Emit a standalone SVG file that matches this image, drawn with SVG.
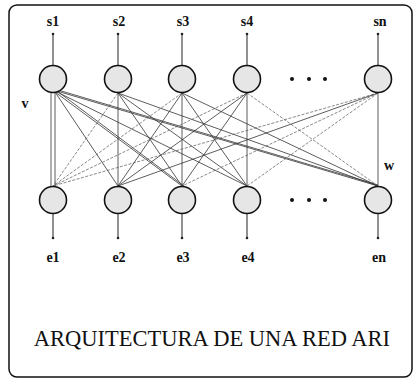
<svg xmlns="http://www.w3.org/2000/svg" width="415" height="380" viewBox="0 0 415 380">
<style>
.n{fill:#e6e6e6;stroke:#111;stroke-width:1.6}
.t{stroke:#222;stroke-width:1}
.c{stroke:#333;stroke-width:0.8;fill:none}
.d{stroke:#555;stroke-width:0.7;stroke-dasharray:3 1.5;fill:none}
.lb{font-family:"Liberation Serif",serif;font-size:14px;font-weight:bold;fill:#111;text-anchor:middle}
.ti{font-family:"Liberation Serif",serif;font-size:22.5px;fill:#111;text-anchor:middle}
</style>
<rect x="9" y="5" width="403" height="372" rx="8" fill="#fff" stroke="#111" stroke-width="1.5"/>
<g id="connectors">
<line class="c" x1="51" y1="93" x2="51" y2="186"/><line class="c" x1="55" y1="93" x2="55" y2="186"/>
<line class="c" x1="55" y1="92" x2="118" y2="186"/>
<line class="c" x1="55" y1="92" x2="182" y2="186"/><line class="c" x1="57" y1="91" x2="184" y2="186"/>
<line class="c" x1="57" y1="92" x2="247" y2="186"/>
<line class="c" x1="57" y1="91" x2="378" y2="186"/><line class="c" x1="58" y1="90" x2="378" y2="185"/>
<line class="d" x1="118" y1="93" x2="53" y2="186"/>
<line class="c" x1="118" y1="93" x2="118" y2="186"/>
<line class="c" x1="118" y1="93" x2="182" y2="186"/>
<line class="c" x1="118" y1="93" x2="247" y2="186"/>
<line class="c" x1="118" y1="93" x2="378" y2="186"/>
<line class="d" x1="182" y1="93" x2="53" y2="186"/>
<line class="c" x1="182" y1="93" x2="118" y2="186"/>
<line class="c" x1="182" y1="93" x2="182" y2="186"/>
<line class="c" x1="182" y1="93" x2="247" y2="186"/>
<line class="c" x1="182" y1="93" x2="378" y2="186"/>
<line class="d" x1="247" y1="93" x2="53" y2="186"/>
<line class="c" x1="247" y1="93" x2="118" y2="186"/>
<line class="c" x1="247" y1="93" x2="182" y2="186"/>
<line class="c" x1="247" y1="93" x2="247" y2="186"/>
<line class="d" x1="247" y1="93" x2="378" y2="186"/>
<line class="d" x1="378" y1="93" x2="53" y2="186"/>
<line class="c" x1="378" y1="93" x2="118" y2="186"/>
<line class="d" x1="378" y1="93" x2="182" y2="186"/>
<line class="d" x1="378" y1="93" x2="247" y2="186"/>
<line class="c" x1="378" y1="93" x2="378" y2="186"/>
</g>
<g id="top-nodes">
<g id="s1"><text class="lb" x="53" y="26">s1</text><line class="t" x1="53" y1="34" x2="53" y2="65"/><circle cx="53" cy="34" r="1.3" fill="#222"/><circle class="n" cx="53" cy="79" r="13.5"/></g>
<g id="s2"><text class="lb" x="119" y="26">s2</text><line class="t" x1="118" y1="34" x2="118" y2="65"/><circle cx="118" cy="34" r="1.3" fill="#222"/><circle class="n" cx="118" cy="79" r="13.5"/></g>
<g id="s3"><text class="lb" x="183" y="26">s3</text><line class="t" x1="182" y1="34" x2="182" y2="65"/><circle cx="182" cy="34" r="1.3" fill="#222"/><circle class="n" cx="182" cy="79" r="13.5"/></g>
<g id="s4"><text class="lb" x="247" y="26">s4</text><line class="t" x1="247" y1="34" x2="247" y2="65"/><circle cx="247" cy="34" r="1.3" fill="#222"/><circle class="n" cx="247" cy="79" r="13.5"/></g>
<g id="sn"><text class="lb" x="380" y="26">sn</text><line class="t" x1="378" y1="34" x2="378" y2="65"/><circle cx="378" cy="34" r="1.3" fill="#222"/><circle class="n" cx="378" cy="79" r="13.5"/></g>
<g id="top-dots" fill="#111"><circle cx="292" cy="79" r="2"/><circle cx="309" cy="79" r="2"/><circle cx="325" cy="79" r="2"/></g>
</g>
<g id="bottom-nodes">
<g id="e1"><circle class="n" cx="53" cy="200" r="13.5"/><line class="t" x1="53" y1="214" x2="53" y2="238"/><circle cx="53" cy="238" r="1.3" fill="#222"/><text class="lb" x="53" y="262">e1</text></g>
<g id="e2"><circle class="n" cx="118" cy="200" r="13.5"/><line class="t" x1="118" y1="214" x2="118" y2="238"/><circle cx="118" cy="238" r="1.3" fill="#222"/><text class="lb" x="119" y="262">e2</text></g>
<g id="e3"><circle class="n" cx="182" cy="200" r="13.5"/><line class="t" x1="182" y1="214" x2="182" y2="238"/><circle cx="182" cy="238" r="1.3" fill="#222"/><text class="lb" x="183" y="262">e3</text></g>
<g id="e4"><circle class="n" cx="247" cy="200" r="13.5"/><line class="t" x1="247" y1="214" x2="247" y2="238"/><circle cx="247" cy="238" r="1.3" fill="#222"/><text class="lb" x="248" y="262">e4</text></g>
<g id="en"><circle class="n" cx="378" cy="200" r="13.5"/><line class="t" x1="378" y1="214" x2="378" y2="238"/><circle cx="378" cy="238" r="1.3" fill="#222"/><text class="lb" x="379" y="262">en</text></g>
<g id="bottom-dots" fill="#111"><circle cx="292" cy="200" r="2"/><circle cx="309" cy="200" r="2"/><circle cx="325" cy="200" r="2"/></g>
</g>
<text class="lb" x="25" y="108">v</text>
<text class="lb" x="389" y="170">w</text>
<text class="ti" x="212" y="346">ARQUITECTURA DE UNA RED ARI</text>
</svg>
